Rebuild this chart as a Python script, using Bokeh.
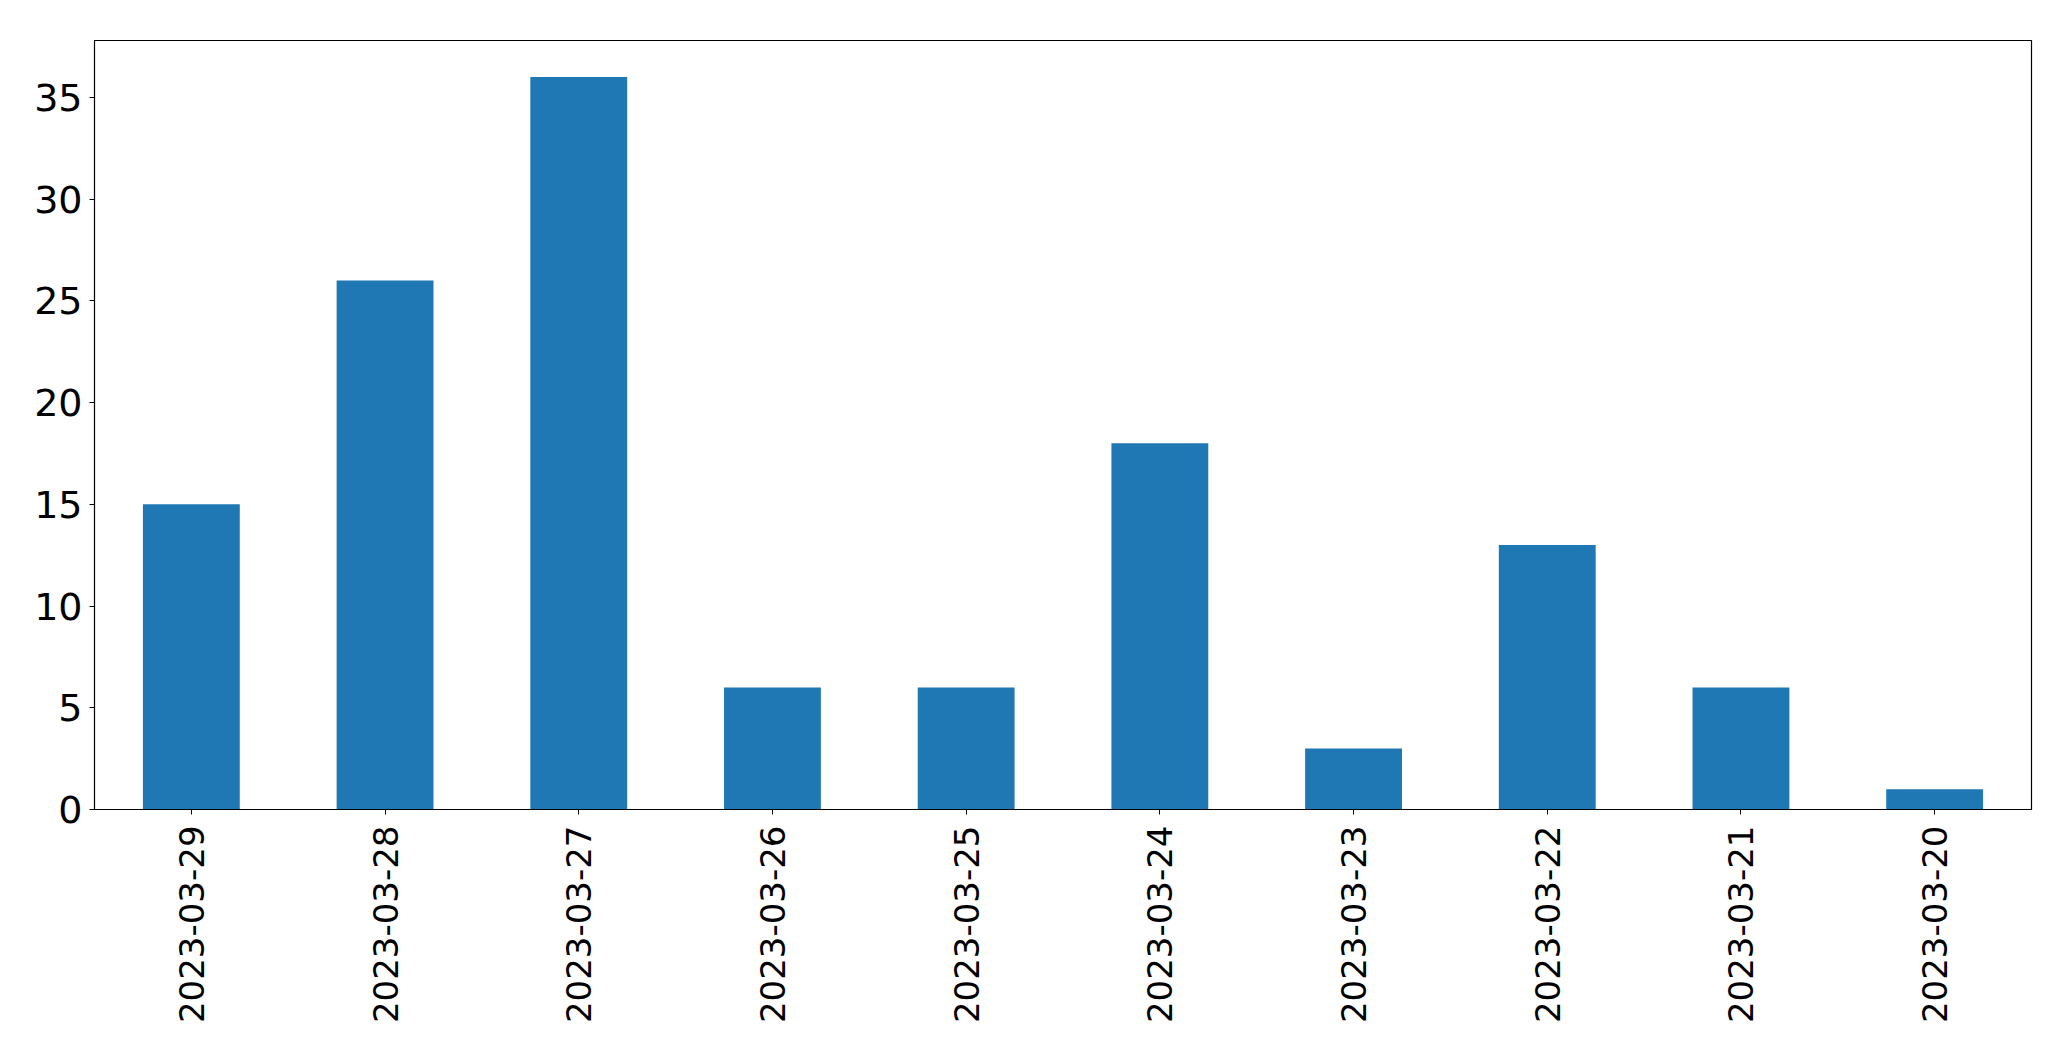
import math
from bokeh.plotting import figure
from bokeh.models import ColumnDataSource, FactorRange, Range1d, FixedTicker
from bokeh.embed import file_html
from bokeh.resources import INLINE

dates = ["2023-03-29", "2023-03-28", "2023-03-27", "2023-03-26", "2023-03-25",
         "2023-03-24", "2023-03-23", "2023-03-22", "2023-03-21", "2023-03-20"]
counts = [15, 26, 36, 6, 6, 18, 3, 13, 6, 1]
y_ticks = [0, 5, 10, 15, 20, 25, 30, 35]

source = ColumnDataSource(data=dict(date=dates, count=counts))

p = figure(width=2071, height=1061, output_backend="svg", toolbar_location=None,
           x_range=FactorRange(factors=dates, range_padding=0),
           y_range=Range1d(0, max(counts) * 1.05),
           min_border_left=94, min_border_right=40, min_border_top=40, min_border_bottom=252)

p.vbar(x="date", top="count", width=0.5, source=source, fill_color="#1f77b4", line_color=None)

p.xgrid.visible = False
p.ygrid.visible = False
p.outline_line_color = "black"
p.outline_line_width = 1.2
p.outline_line_alpha = 1

for ax in (p.xaxis, p.yaxis):
    ax.axis_line_color = "black"
    ax.major_tick_line_color = "black"
    ax.major_tick_out = 5
    ax.major_tick_in = 0
    ax.minor_tick_line_color = None
    ax.major_label_text_font = "DejaVu Sans"
    ax.major_label_text_color = "black"

p.yaxis.major_label_text_font_size = "38px"
p.xaxis.major_label_text_font_size = "34px"
p.yaxis.ticker = FixedTicker(ticks=y_ticks)
p.yaxis.major_label_standoff = 7
p.xaxis.major_label_orientation = math.pi / 2
p.xaxis.major_label_standoff = 11

open("out.html", "w").write(file_html(p, INLINE))
